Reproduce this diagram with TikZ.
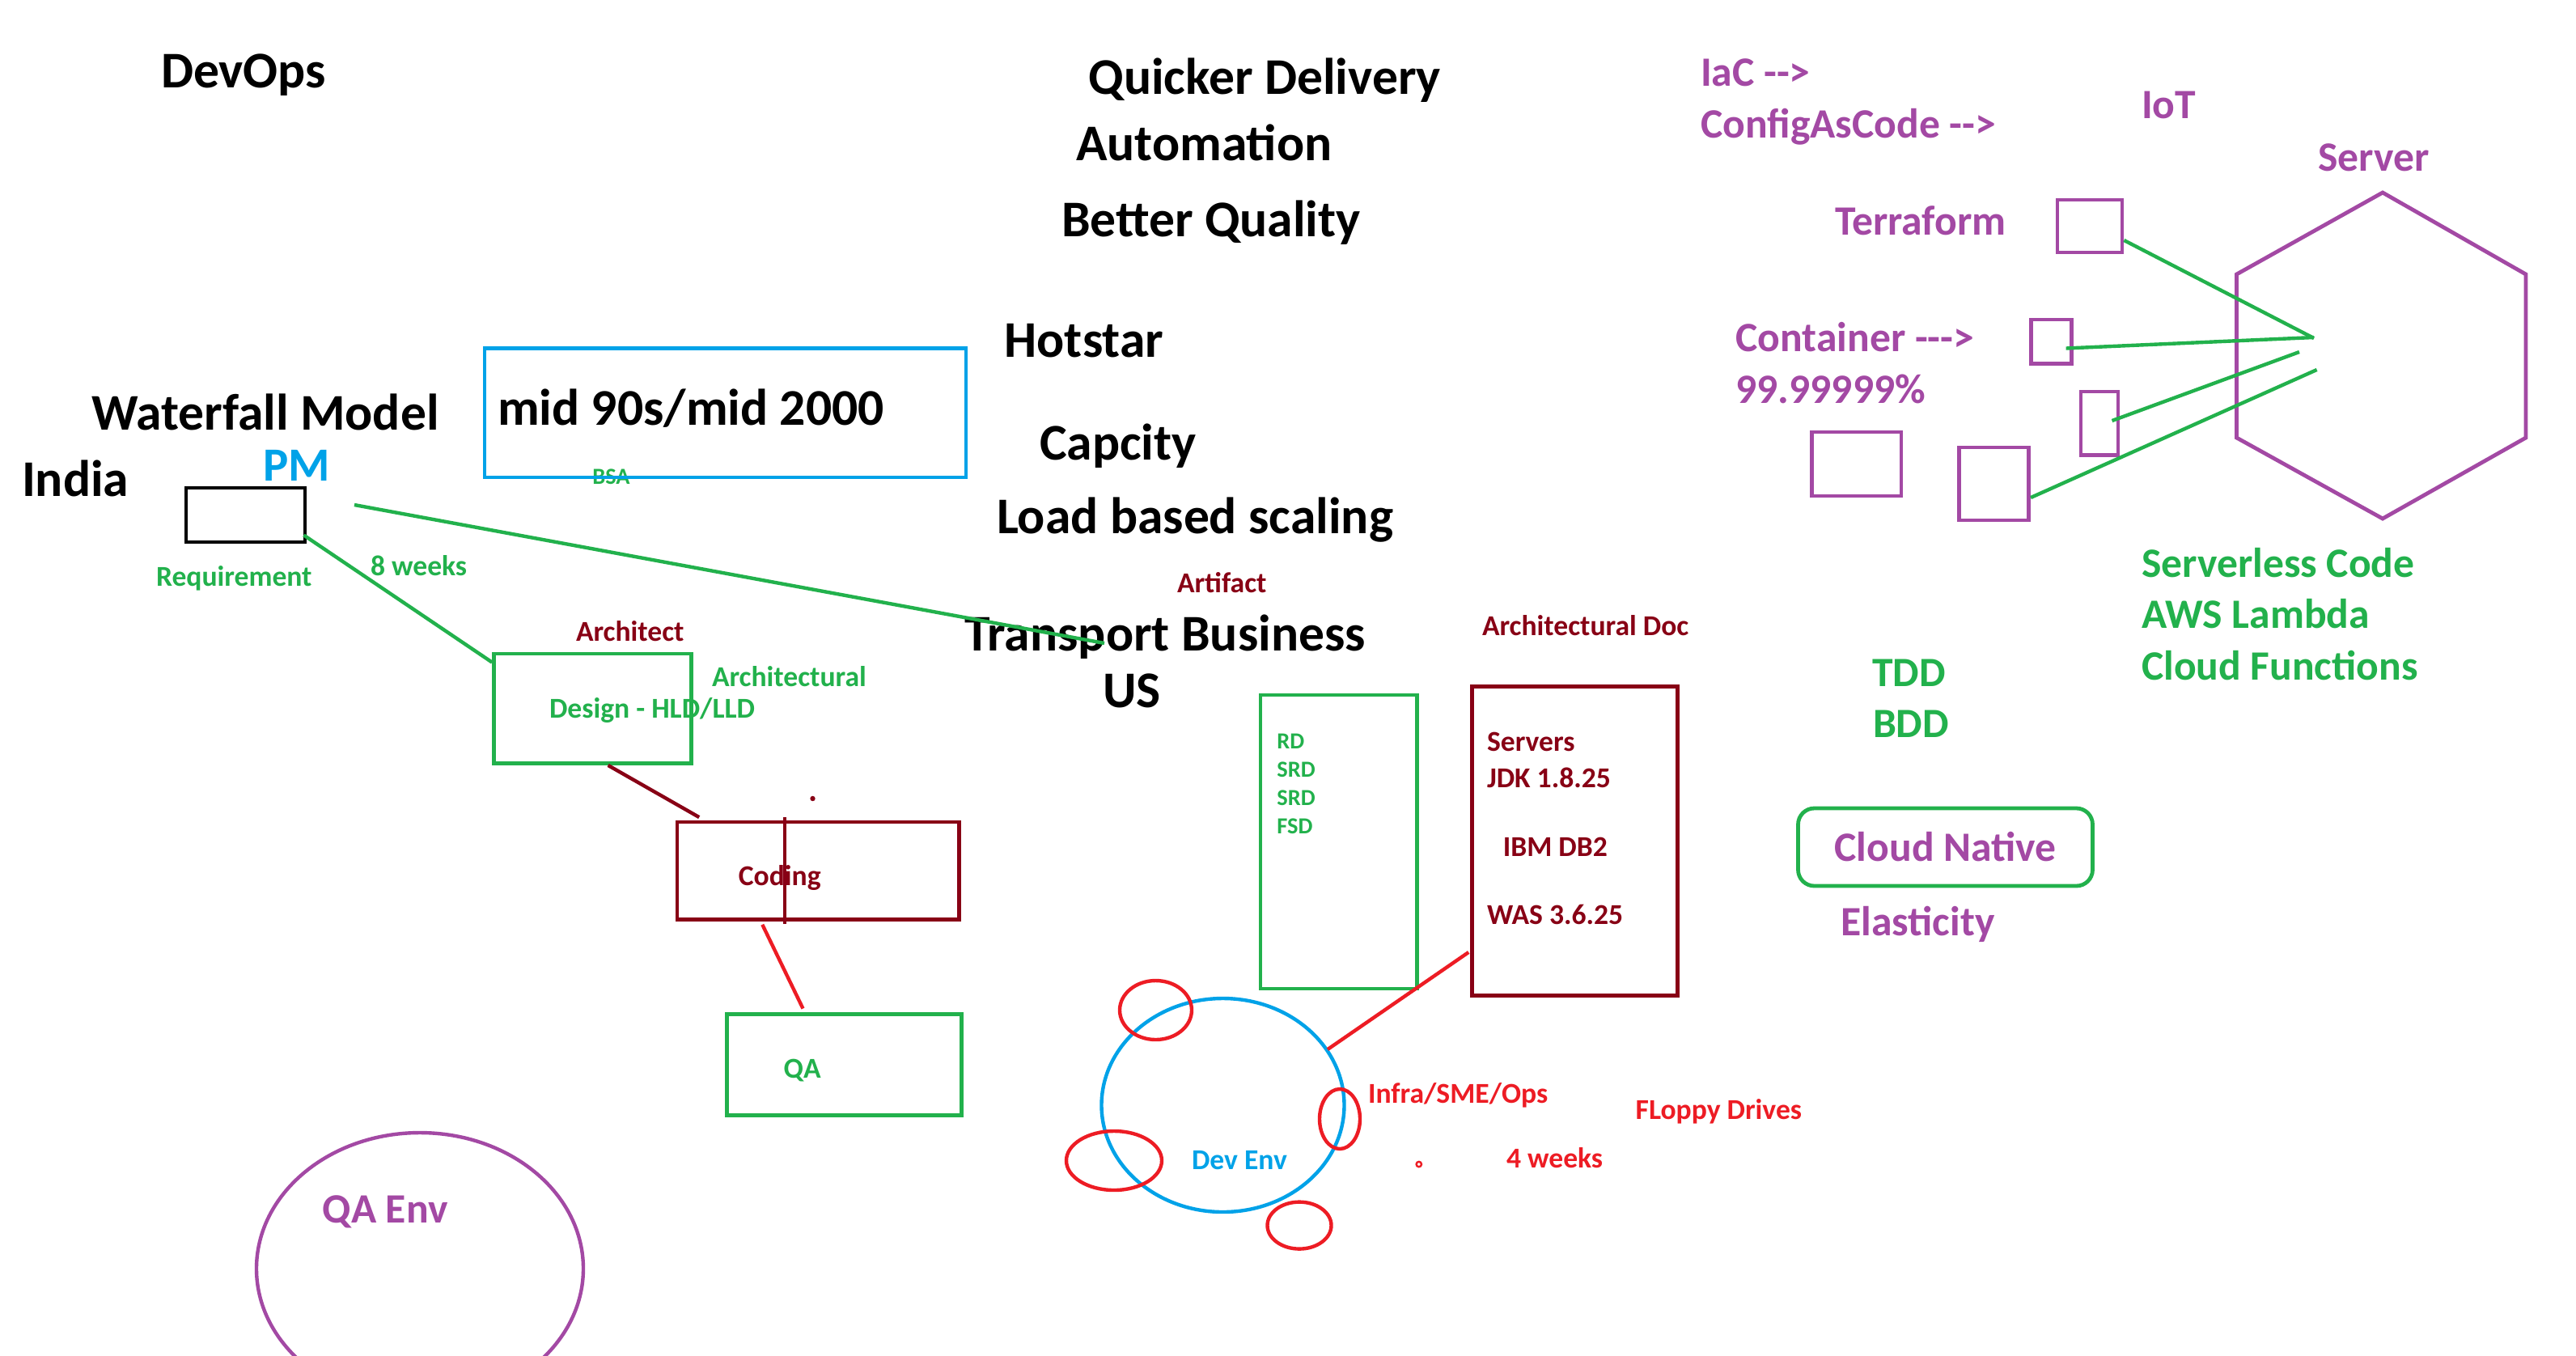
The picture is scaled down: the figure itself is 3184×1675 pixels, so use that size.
\documentclass[tikz,border=0pt]{standalone}
\usepackage{fontspec}
\setmainfont{Carlito}
\usetikzlibrary{shapes.geometric,calc}
\definecolor{pgreen}{HTML}{22B14C}
\definecolor{pblue}{HTML}{00A2E8}
\definecolor{pdred}{HTML}{880015}
\definecolor{pred}{HTML}{ED1C24}
\definecolor{ppurple}{HTML}{A349A4}
\tikzset{
  lbl/.style={inner sep=0pt, outer sep=0pt, anchor=base west},
  big/.style={lbl, font=\fontsize{15.9pt}{18pt}\selectfont\bfseries},
  med/.style={lbl, font=\fontsize{12.9pt}{15pt}\selectfont\bfseries},
  sml/.style={lbl, font=\fontsize{8.9pt}{10pt}\selectfont\bfseries},
  tny/.style={lbl, font=\fontsize{7.1pt}{8pt}\selectfont\bfseries},
  bx/.style 2 args={draw, line width=1.2pt, inner sep=0pt, minimum width=#1*0.25pt, minimum height=#2*0.25pt},
  el/.style 2 args={ellipse, draw, line width=1.1pt, inner sep=0pt, minimum width=#1*0.25pt, minimum height=#2*0.25pt},
  ln/.style={line width=1.1pt},
}
\begin{document}
\begin{tikzpicture}[x=0.25pt, y=-0.25pt]
\useasboundingbox (0,0) rectangle (3184,1675);
\clip (0,0) rectangle (3184,1675);
\fill[white] (0,0) rectangle (3184,1675);

% black headings
\node[big] (devops) at (199,108) {DevOps};
\node[big] (quick) at (1345.5,116.5) {Quicker Delivery};
\node[big] (auto) at (1330,198) {Automation};
\node[big] (better) at (1312,292) {Better Quality};
\node[big] (hot) at (1241.6,441) {Hotstar};
\node[big] (cap) at (1285,568) {Capcity};
\node[big] (load) at (1232,659) {Load based scaling};
\node[big] (trans) at (1192.5,804) {Transport Business};
\node[big] (us) at (1363,874) {US};
\node[big] (wf) at (113,531) {Waterfall Model};
\node[big] (india) at (27,613) {India};
\node[lbl, font=\fontsize{14.7pt}{16pt}\selectfont\bfseries, text=pblue] (pm) at (325,594) {PM};
\node[big] (mid) at (615,525) {mid 90s/mid 2000};
\node[tny, text=pgreen] (bsa) at (732.4,598) {BSA};

% boxes
\node[bx={147}{67}, draw=black] (req) at (303.5,636.5) {};
\node[bx={595}{159.5}, draw=pblue] (m90) at (896.5,510.25) {};
\node[bx={244}{135.5}, draw=pgreen] (design) at (732.6,875.75) {};
\node[bx={348.4}{120.4}, draw=pdred] (coding) at (1011.2,1076.2) {};
\node[bx={290.2}{124.5}, draw=pgreen] (qa) at (1043.5,1316) {};
\node[bx={193.3}{363}, draw=pgreen] (rd) at (1654.65,1040.5) {};
\node[bx={253.8}{382.3}, draw=pdred] (srv) at (1946.4,1039.65) {};

% small labels
\node[sml, text=pgreen] (reqt) at (193,724) {Requirement};
\node[sml, text=pgreen] (w8) at (458,711) {8 weeks};
\node[sml, text=pdred] (arch) at (712,792.5) {Architect};
\node[sml, text=pgreen] (archl) at (880,848) {Architectural};
\node[sml, text=pgreen] (dest) at (679,887) {Design - HLD/LLD};
\node[sml, text=pdred] (codt) at (912.8,1094) {Coding};
\node[sml, text=pgreen] (qat) at (968.6,1332) {QA};
\node[sml, text=pdred] (art) at (1455,732) {Artifact};
\node[sml, text=pdred] (adoc) at (1832,785) {Architectural Doc};
\node[tny, text=pgreen] (rd1) at (1578.4,925.8) {RD};
\node[tny, text=pgreen] (rd2) at (1578.4,960.6) {SRD};
\node[tny, text=pgreen] (rd3) at (1578.4,995.4) {SRD};
\node[tny, text=pgreen] (rd4) at (1578.4,1030.8) {FSD};
\node[sml, text=pdred] (s1) at (1838,928.8) {Servers};
\node[sml, text=pdred] (s2) at (1838,973) {JDK 1.8.25};
\node[sml, text=pdred] (s3) at (1857.8,1058.5) {IBM DB2};
\node[sml, text=pdred] (s4) at (1838,1142.3) {WAS 3.6.25};
\node[sml, text=pred] (infra) at (1691,1363.5) {Infra/SME/Ops};
\node[sml, text=pred] (floppy) at (2021.7,1383) {FLoppy Drives};
\node[sml, text=pred] (w4) at (1862,1443) {4 weeks};

% ellipses
\node[el={404}{336}, draw=ppurple] (qaenv) at (519,1568) {};
\node[med, text=ppurple] (qaenvt) at (398.6,1511) {QA Env};
\node[el={300}{264}, draw=pblue] (dev) at (1511.5,1366) {};
\node[sml, text=pblue] (devt) at (1473,1445) {Dev Env};
\node[el={89}{73}, draw=pred] (e1) at (1428.5,1248.5) {};
\node[el={118}{73}, draw=pred] (e2) at (1377,1434.5) {};
\node[el={50}{74}, draw=pred] (e3) at (1656,1383) {};
\node[el={79}{58}, draw=pred] (e4) at (1606,1514.6) {};

% dots
\fill[pdred] (1004.5,987) circle[radius=0.8pt];
\draw[pred, line width=0.6pt] (1753.8,1439) circle[radius=0.8pt];

% connectors left
\draw[ln, pgreen] ($(req.south east)+(-4,-11)$) -- ($(design.north west)+(0,13)$);
\coordinate (ga) at (438,624);
\coordinate (gb) at (1365,795);
\draw[ln, pgreen] (ga) -- (gb);
\draw[ln, pdred] ($(design.south)+(19,0)$) -- ($(coding.north west)+(29.6,-3.5)$);
\draw[line width=1pt, pdred] ($(coding.north west)+(135.6,-3.6)$) -- ($(coding.south west)+(135.6,3)$);
\draw[ln, pred] ($(coding.south west)+(107.7,4)$) -- ($(qa.north west)+(96.5,-4.8)$);
\draw[ln, pred] ($(dev.center)+(129.5,-69)$) -- ($(srv.west)+(-1.9,137.3)$);

% right side purple
\node[med, text=ppurple] (iac) at (2102,106) {IaC {-}{-}>};
\node[med, text=ppurple] (cac) at (2102,170.5) {ConfigAsCode {-}{-}>};
\node[med, text=ppurple] (iot) at (2647,146) {IoT};
\node[med, text=ppurple] (servert) at (2865,211) {Server};
\node[med, text=ppurple] (terra) at (2268,290) {Terraform};
\node[med, text=ppurple] (cont) at (2145.5,434.5) {Container {-}{-}{-}>};
\node[med, text=ppurple] (nines) at (2145.5,498) {99.99999\%};

\node[bx={80}{65}, draw=ppurple] (tf) at (2583,279.5) {};
\node[bx={50}{54.5}, draw=ppurple] (cbox) at (2535.6,422.2) {};
\node[bx={46}{78.6}, draw=ppurple] (tbox) at (2595,523.3) {};
\node[bx={110.5}{79}, draw=ppurple] (lbox) at (2294.7,573.5) {};
\node[bx={86}{90}, draw=ppurple] (mbox) at (2464.7,598) {};

\draw[line width=1.2pt, ppurple] (2945,238) -- (3122,339) -- (3122,541) -- (2945,641) -- (2764.5,541) -- (2764.5,339) -- cycle;

\coordinate (h1) at (2860,418);
\coordinate (h2) at (2860,417);
\coordinate (h3) at (2842,435);
\coordinate (h4) at (2863.6,457);
\draw[ln, pgreen] ($(tf.east)+(0,17.5)$) -- (h1);
\draw[ln, pgreen] ($(cbox.center)+(18,8.3)$) -- (h2);
\draw[ln, pgreen] ($(tbox.center)+(15.5,-3.3)$) -- (h3);
\draw[ln, pgreen] ($(mbox.east)+(0,17)$) -- (h4);

% green right texts
\node[med, text=pgreen] (sless) at (2647,713) {Serverless Code};
\node[med, text=pgreen] (aws) at (2647,776) {AWS Lambda};
\node[med, text=pgreen] (cf) at (2647,840) {Cloud Functions};
\node[med, text=pgreen] (tdd) at (2314,848) {TDD};
\node[med, text=pgreen] (bdd) at (2315,911) {BDD};

\node[draw=pgreen, line width=1.2pt, rounded corners=5pt, inner sep=0pt, minimum width=364*0.25pt, minimum height=96*0.25pt, text=ppurple, font=\fontsize{12.9pt}{15pt}\selectfont\bfseries] (cn) at (2404.5,1047) {Cloud Native};
\node[med, text=ppurple] (elas) at (2275.3,1156) {Elasticity};
\end{tikzpicture}
\end{document}
